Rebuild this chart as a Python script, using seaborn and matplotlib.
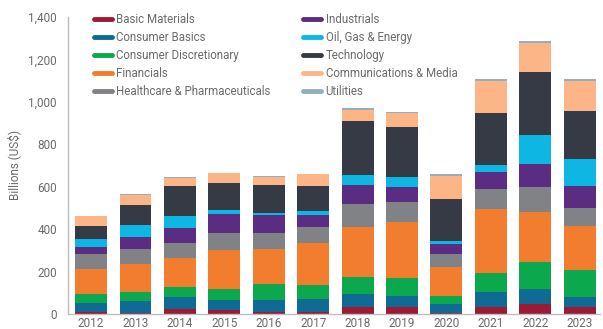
import numpy as np
import pandas as pd
import matplotlib
matplotlib.use("Agg")
import matplotlib.pyplot as plt
from matplotlib.lines import Line2D
import seaborn as sns

years = ["2012", "2013", "2014", "2015", "2016", "2017", "2018", "2019", "2020", "2021", "2022", "2023"]

basic_materials = [8, 7, 23, 19, 8, 8, 34, 32, 6, 34, 47, 32]
consumer_basics = [45, 56, 57, 47, 58, 61, 60, 53, 41, 68, 72, 50]
consumer_discretionary = [40, 42, 45, 54, 76, 68, 82, 83, 39, 90, 128, 125]
financials = [118, 132, 140, 182, 164, 199, 236, 264, 134, 301, 235, 208]
healthcare = [70, 70, 68, 78, 74, 74, 105, 95, 61, 96, 115, 85]
industrials = [33, 55, 74, 92, 88, 55, 93, 73, 50, 80, 109, 105]
oil_gas_energy = [40, 56, 53, 17, 8, 21, 44, 46, 15, 33, 136, 127]
technology = [61, 96, 143, 128, 133, 119, 256, 237, 198, 244, 297, 223]
communications_media = [47, 49, 40, 48, 39, 55, 52, 63, 108, 154, 140, 143]
utilities = [2, 2, 2, 2, 2, 2, 8, 6, 9, 9, 8, 8]

series_names = ["Basic Materials", "Consumer Basics", "Consumer Discretionary", "Financials",
                "Healthcare & Pharmaceuticals", "Industrials", "Oil, Gas & Energy", "Technology",
                "Communications & Media", "Utilities"]
series_values = [basic_materials, consumer_basics, consumer_discretionary, financials, healthcare,
                 industrials, oil_gas_energy, technology, communications_media, utilities]
colors = ["#9B1B35", "#0F6B94", "#0BA84E", "#F37D2E", "#818286",
          "#5A2D82", "#0DB6E3", "#363A45", "#FBB586", "#93AEBD"]

df = pd.DataFrame({name: vals for name, vals in zip(series_names, series_values)}, index=years)
cum = df.cumsum(axis=1)

text_color = "#6B6B6B"
plt.rcParams["font.family"] = ["Roboto", "DejaVu Sans"]

fig = plt.figure(figsize=(6.03, 3.29), dpi=100)
ax = fig.add_axes([68 / 603, 15 / 329, 532 / 603, 297 / 329])

for name, color in reversed(list(zip(series_names, colors))):
    d = pd.DataFrame({"year": years, "value": cum[name].values})
    sns.barplot(data=d, x="year", y="value", color=color, saturation=1, width=0.72,
                order=years, ax=ax, edgecolor="none", linewidth=0)

ax.set_xlim(-0.52, 11.46)
ax.set_ylim(0, 1400)
ax.set_yticks(np.arange(0, 1401, 200))
ax.set_yticklabels([f"{v:,}" for v in range(0, 1401, 200)])
ax.set_xlabel("")
ax.set_ylabel("Billions (US$)", color=text_color, fontsize=8.5, labelpad=5)
ax.tick_params(axis="both", length=0, colors=text_color, labelsize=8.5)
ax.tick_params(axis="y", pad=8)
ax.tick_params(axis="x", pad=2)
for s in ["top", "right"]:
    ax.spines[s].set_visible(False)
for s in ["left", "bottom"]:
    ax.spines[s].set_color("#BDBDBD")
    ax.spines[s].set_linewidth(1)

handles = [Line2D([0], [0], color=c, lw=3.5, solid_capstyle="round") for c in colors]
leg = ax.legend(handles, series_names, ncol=2, loc="upper left", bbox_to_anchor=(0.04, 1.03),
                frameon=False, fontsize=8.3, handlelength=1.6, handletextpad=0.35,
                labelspacing=0.45, columnspacing=2.8, borderaxespad=0)
for t in leg.get_texts():
    t.set_color(text_color)

fig.savefig("out.png", dpi=100)
